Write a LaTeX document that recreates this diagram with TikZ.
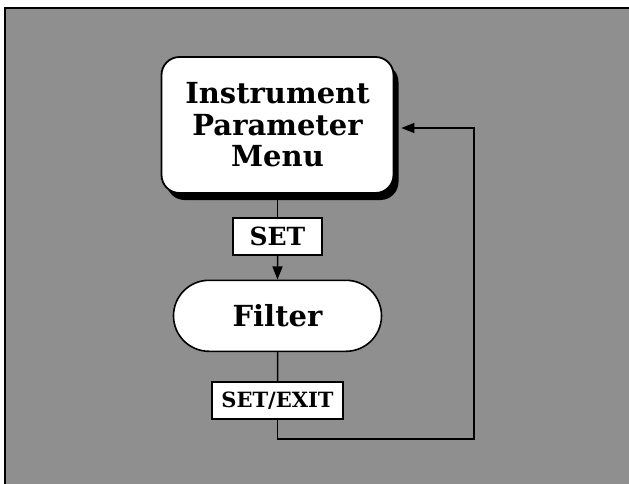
\documentclass[tikz,border=0pt]{standalone}
\usepackage{fontspec}
\setmainfont{DejaVu Serif}
\usepackage{tikz}
\usetikzlibrary{arrows.meta,shapes.misc,positioning,shadows,calc}
\definecolor{halftone}{gray}{0.56}
\tikzset{
  menubox/.style ={draw, line width=1.8pt, fill=white, rounded corners=18pt,
                   align=center, minimum width=232pt, minimum height=136pt,
                   inner sep=0pt,
                   font=\fontsize{29}{31.5}\selectfont\bfseries,
                   drop shadow={shadow xshift=5pt, shadow yshift=-7pt,
                                fill=black, opacity=1}},
  filterbox/.style={draw, line width=1.6pt, fill=white, rounded rectangle,
                   minimum width=208pt, minimum height=71pt, inner sep=0pt,
                   font=\fontsize{29}{32}\selectfont\bfseries},
  keybox/.style   ={draw, line width=1.6pt, fill=white, minimum height=37pt,
                   inner sep=0pt, text width=#1, align=center},
  keybox/.default=89pt,
  arr/.style      ={-{Triangle[length=13pt,width=10pt]}, line width=1.5pt},
  line/.style     ={line width=1.5pt},
}
\begin{document}
\begin{tikzpicture}[x=1pt,y=-1pt]
  \useasboundingbox (0,0) rectangle (629,484);
  % shaded panel with its frame on the left and top
  \fill[halftone] (5,8) rectangle (629,484);
  \draw[line width=1.5pt] (5,484) -- (5,8) -- (629,8);

  \node[menubox] (menu) at (277.5,125) {Instrument\\Parameter\\Menu};
  \node[keybox, below=23pt of menu,
        font=\fontsize{25}{28}\selectfont\bfseries] (set) {SET};
  \node[filterbox, below=24pt of set] (filter) {Filter};
  \node[keybox=131pt, below=29pt of filter,
        font=\fontsize{21}{24}\selectfont\bfseries] (exit) {SET/EXIT};

  \coordinate (loop) at (474,439);
  \coordinate (back) at ($(menu.east)+(7,3)$);

  \draw[line](menu)--(set);\draw[arr](set)--(filter);\draw[line](filter)--(exit);
  \draw[arr](exit.south)|-(loop)|-(back);
\end{tikzpicture}
\end{document}
